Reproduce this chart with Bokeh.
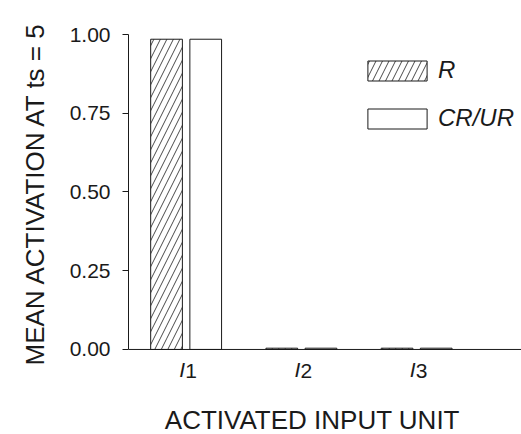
from bokeh.plotting import figure
from bokeh.models import (ColumnDataSource, Range1d, FixedTicker, Legend, LegendItem,
                          NumeralTickFormatter, LabelSet, Label, Span, Title)
from bokeh.core.properties import value
from bokeh.embed import file_html
from bokeh.resources import INLINE

# ---- data ----
units = [1, 2, 3]
unit_letters = ["I", "I", "I"]
unit_numbers = ["1", "2", "3"]
r_values = [0.985, 0.004, 0.004]
crur_values = [0.985, 0.004, 0.004]
y_ticks = [0.0, 0.25, 0.5, 0.75, 1.0]
x_title = "ACTIVATED INPUT UNIT"
y_title = "MEAN ACTIVATION AT ts = 5"

OFF = 0.17
BW = 0.275

src = ColumnDataSource(dict(
    x=units,
    xr=[u - OFF for u in units],
    xc=[u + OFF for u in units],
    r=r_values,
    c=crur_values,
    letter=unit_letters,
    num=unit_numbers,
    base=[0.0] * len(units),
))

FONT = "Liberation Sans"
INK = "#1a1a1a"

# the frame runs down to the bottom edge so that the category labels and the
# x title (drawn as annotations) are not clipped; y=0 sits where the axis is.
p = figure(width=521, height=434, output_backend="svg", toolbar_location=None,
           x_range=Range1d(0.5, 3.91), y_range=Range1d(-0.27, 1.0),
           x_axis_location=None,
           min_border_left=128, min_border_right=0, min_border_top=34,
           min_border_bottom=0)
p.outline_line_color = None
p.grid.visible = False
p.background_fill_color = "white"
p.border_fill_color = "white"

rr = p.vbar(x="xr", top="r", width=BW, source=src, fill_color="white",
            line_color=INK, line_width=1, hatch_pattern="/",
            hatch_color=INK, hatch_scale=13, hatch_weight=0.8)
rc = p.vbar(x="xc", top="c", width=BW, source=src, fill_color="white",
            line_color=INK, line_width=1)

# x axis line at y = 0
p.add_layout(Span(location=0, dimension="width", line_color=INK, line_width=1))

# y axis
ya = p.yaxis[0]
ya.bounds = (y_ticks[0], y_ticks[-1])
ya.ticker = FixedTicker(ticks=y_ticks)
ya.formatter = NumeralTickFormatter(format="0.00")
ya.major_tick_out = 6
ya.major_tick_in = 0
ya.minor_tick_out = 0
ya.minor_tick_in = 0
ya.major_label_standoff = 12
ya.major_label_text_font = FONT
ya.major_label_text_font_size = "21px"
ya.major_label_text_color = INK
ya.axis_line_color = INK
ya.major_tick_line_color = INK

# y title, placed along the 0..1 part of the frame
p.add_layout(Title(text=y_title, align="left", offset=69, standoff=34,
                   text_font=FONT, text_font_size="26px",
                   text_font_style="normal", text_color=INK), "left")

# category labels: italic "I" with a lowered digit
p.add_layout(LabelSet(x="x", y="base", text="letter", source=src,
                      x_offset=-4, y_offset=-9, text_align="center",
                      text_baseline="top", text_font=value(FONT),
                      text_font_size="21px", text_font_style="italic",
                      text_color=INK))
p.add_layout(LabelSet(x="x", y="base", text="num", source=src,
                      x_offset=5, y_offset=-15, text_align="center",
                      text_baseline="top", text_font=value(FONT),
                      text_font_size="21px", text_color=INK))

# x title
p.add_layout(Label(x=sum(units) / len(units), y=0, x_offset=11, y_offset=-71,
                   text=x_title, text_align="center", text_baseline="alphabetic",
                   text_font=FONT, text_font_size="26px", text_color=INK))

legend = Legend(items=[LegendItem(label="R", renderers=[rr]),
                       LegendItem(label="CR/UR", renderers=[rc])],
                location=(232, 302), padding=0, margin=0, spacing=20,
                glyph_width=74, glyph_height=25, label_height=20,
                label_standoff=4, border_line_color=None,
                background_fill_alpha=0,
                label_text_font=FONT, label_text_font_size="24px",
                label_text_font_style="italic", label_text_color=INK)
p.add_layout(legend)

open("out.html", "w").write(file_html(p, INLINE))
